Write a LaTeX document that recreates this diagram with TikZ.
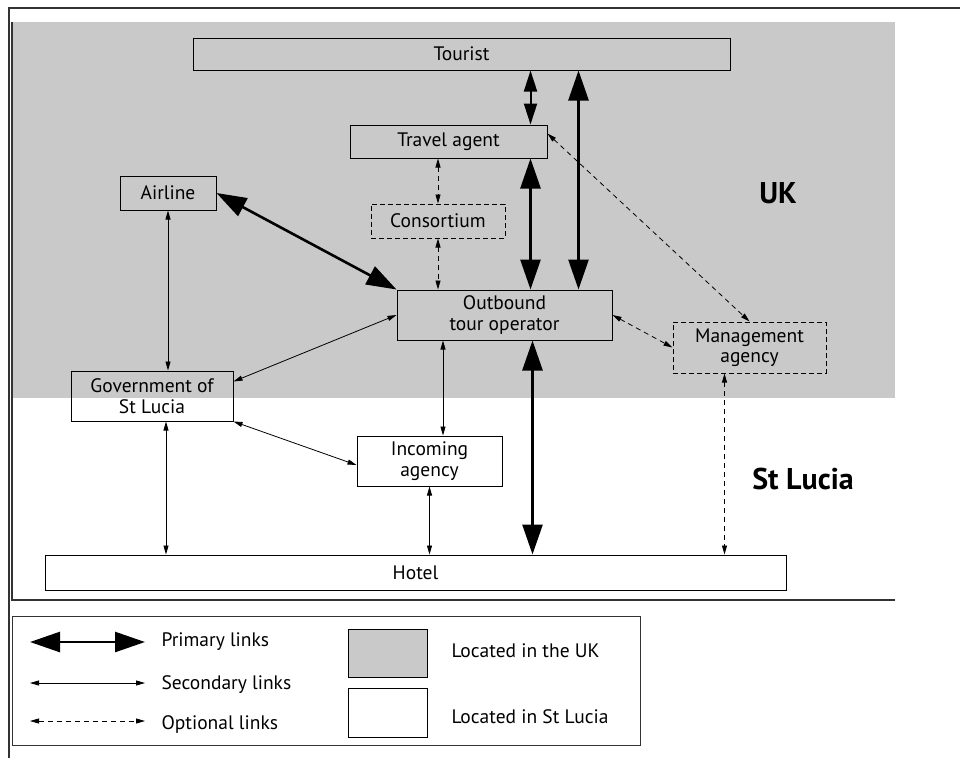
\documentclass[tikz,border=0pt]{standalone}
\usepackage{fontspec}
\setmainfont{PT Sans}
\usetikzlibrary{arrows.meta}
\colorlet{uk area}{black!21}
\colorlet{frame line}{black!80}
\tikzset{
  box/.style={draw, line width=1pt, align=center, inner sep=1pt,
    font=\fontsize{19.5}{20.5}\selectfont},
  optbox/.style={box, dashed, dash pattern=on 5pt off 3pt},
  primary/.style={line width=2.6pt,
    {Triangle[length=30pt,width=20pt]}-{Triangle[length=30pt,width=20pt]}},
  middling/.style={line width=2pt,
    {Triangle[length=21pt,width=13pt]}-{Triangle[length=21pt,width=13pt]}},
  secondary/.style={line width=0.8pt,
    {Triangle[length=9pt,width=5pt]}-{Triangle[length=9pt,width=5pt]}},
  optional/.style={secondary, dash pattern=on 5pt off 4pt},
  keytext/.style={anchor=west, font=\fontsize{19.5}{21}\selectfont},
  region/.style={font=\bfseries\fontsize{30}{32}\selectfont}
}
\begin{document}
\begin{tikzpicture}[x=1pt, y=-1pt]
  \useasboundingbox (0,0) rectangle (960,758);
  % regions
  \fill[uk area] (12,22) rectangle (895,398);
  \draw[frame line, line width=1.5pt] (8,8) -- (960,8);
  \draw[frame line, line width=1.5pt] (9,8) -- (9,758);
  \draw[frame line, line width=1.2pt] (12,22) -- (12,600) -- (895,600);

  % actors
  \node[box, minimum width=537pt, minimum height=32pt] (tourist) at (461.5,54) {Tourist};
  \node[box, minimum width=197pt, minimum height=33pt] (travel) at (448.5,141.5) {Travel agent};
  \node[box, minimum width=96pt, minimum height=34pt] (airline) at (168,193) {Airline};
  \node[optbox, minimum width=134pt, minimum height=34pt] (consortium) at (438,221) {Consortium};
  \node[box, minimum width=215pt, minimum height=50pt] (outbound) at (504.5,315) {Outbound\\tour operator};
  \node[optbox, minimum width=153pt, minimum height=51pt] (management) at (749.5,347.5) {Management\\agency};
  \node[box, minimum width=162pt, minimum height=50pt] (government) at (152,396) {Government of\\St Lucia};
  \node[box, minimum width=145pt, minimum height=50pt] (incoming) at (429.5,461) {Incoming\\agency};
  \node[box, minimum width=741pt, minimum height=35pt] (hotel) at (415.5,572.5) {Hotel};

  \node[region] (uk) at (778,193) {UK};
  \node[region] (stlucia) at (803,479) {St Lucia};

  % links
  \coordinate (ta) at ([xshift=26pt]outbound.north);
  \coordinate (tb) at ([xshift=74pt]outbound.north);
  \coordinate (tc) at ([xshift=28pt]outbound.south);
  \draw[middling] (tourist.south -| ta) -- (travel.north -| ta);
  \draw[primary] (travel.south -| ta) -- (ta);
  \draw[primary] (tourist.south -| tb) -- (tb);
  \draw[primary] (tc) -- (hotel.north -| tc);
  \draw[primary] (airline.east) -- (outbound.north west);

  \draw[optional] (travel.south -| consortium.north) -- (consortium.north);
  \draw[optional] (consortium.south) -- (outbound.north -| consortium.south);
  \draw[optional] (outbound.east) -- (management.west);
  \draw[optional] ([yshift=8pt]travel.east) -- (management.north);
  \coordinate (mh) at ([xshift=-25pt]management.south);
  \draw[optional] (mh) -- (hotel.north -| mh);

  \coordinate (io) at ([xshift=13.5pt]incoming.north);
  \coordinate (gh) at ([xshift=14pt]government.south);
  \draw[secondary] (airline.south) -- (government.north -| airline.south);
  \draw[secondary] (outbound.west) -- ([yshift=-11pt]government.north east);
  \draw[secondary] (outbound.south -| io) -- (io);
  \draw[secondary] (government.south east) -- ([yshift=-4pt]incoming.west);
  \draw[secondary] (gh) -- (hotel.north -| gh);
  \draw[secondary] (incoming.south) -- (hotel.north -| incoming.south);

  % legend
  \draw[frame line, line width=1pt] (12,616) rectangle (640,745);
  \coordinate (k1a) at (30,642);  \coordinate (k1b) at (145,642);
  \coordinate (k2a) at (30,683);  \coordinate (k2b) at (145,683);
  \coordinate (k3a) at (30,721);  \coordinate (k3b) at (145,721);
  \draw[primary] (k1a) -- (k1b);
  \draw[secondary] (k2a) -- (k2b);
  \draw[optional] (k3a) -- (k3b);
  \node[keytext] (k1) at (158,642) {Primary links};
  \node[keytext] (k2) at (158,685) {Secondary links};
  \node[keytext] (k3) at (158,724) {Optional links};
  \node[draw, line width=1pt, fill=uk area, minimum width=79pt, minimum height=48pt] (ukkey) at (387.5,653) {};
  \node[draw, line width=0.8pt, minimum width=79pt, minimum height=49pt] (slkey) at (387.5,712.5) {};
  \node[keytext] (ukl) at (448,651) {Located in the UK};
  \node[keytext] (sll) at (448,717) {Located in St Lucia};
\end{tikzpicture}
\end{document}
